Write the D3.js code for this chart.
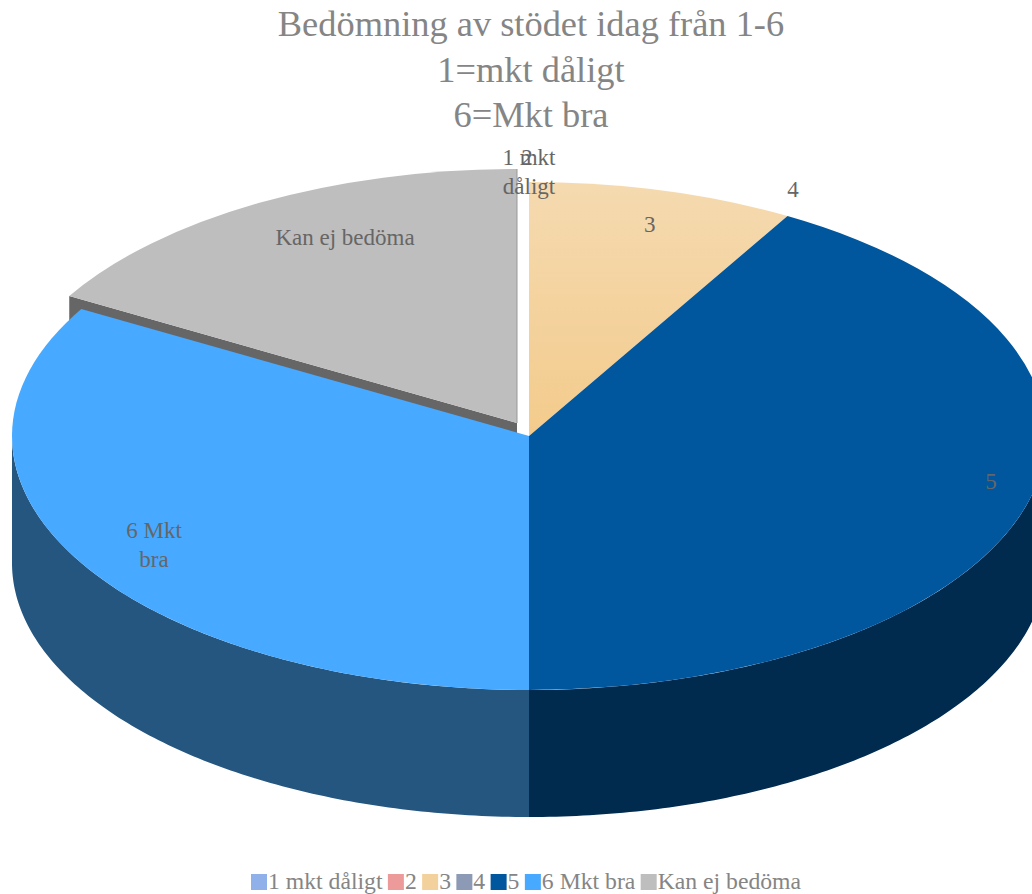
<!DOCTYPE html>
<html>
<head>
<meta charset="utf-8">
<script src="https://cdn.jsdelivr.net/npm/d3@7"></script>
<style>
  body { margin: 0; background: #fff; }
  text { font-family: "Liberation Serif", serif; }
</style>
</head>
<body>
<div id="chart-container"></div>
<script>
'use strict';

const titleLines = ['Bedömning av stödet idag från 1-6', '1=mkt dåligt', '6=Mkt bra'];
const categories = ['1 mkt dåligt', '2', '3', '4', '5', '6 Mkt bra', 'Kan ej bedöma'];
const values = [0, 0, 1, 0, 5, 4, 2];
const topColours = ['#8fb0e8', '#ec9a9a', 'url(#grad3)', '#8c9ab5', '#00579e', '#47a9ff', '#bebebe'];
const wallColours = ['#5a6f94', '#945f5f', '#98805a', '#586172', '#002a4e', '#24567f', '#666666'];
const legendColours = ['#8fb0e8', '#ec9a9a', '#f3d19c', '#8c9ab5', '#00579e', '#47a9ff', '#bebebe'];

var width = 1032;
var height = 894;
var cx = 529, cy = 436;
var rx = 517, ry = 254;
var depth = 127;
var explode = { dx: -12, dy: -13 };
var explodedIndex = 6;

var svg = d3.select('#chart-container')
  .append('svg')
  .attr('width', width)
  .attr('height', height)
  .style('display', 'block');

var grad = svg.append('defs').append('linearGradient')
  .attr('id', 'grad3').attr('x1', 0).attr('y1', 0).attr('x2', 0).attr('y2', 1);
grad.append('stop').attr('offset', '0%').attr('stop-color', '#f5dab0');
grad.append('stop').attr('offset', '100%').attr('stop-color', '#f3cb8c');

// title
svg.append('g').selectAll('text')
  .data(titleLines)
  .enter()
  .append('text')
  .attr('x', 531)
  .attr('y', (d, i) => 36 + i * 45.5)
  .attr('text-anchor', 'middle')
  .attr('font-size', 36.4)
  .attr('fill', '#858585')
  .text(d => d);

var pie = d3.pie().value(d => d).sort(null);
var slices = pie(values);

var arc = d3.arc().innerRadius(0).outerRadius(rx);

// point on the squashed ellipse for a pie angle
const px = a => rx * Math.sin(a);
const py = a => -ry * Math.cos(a);

const wallArea = d3.area()
  .x(a => px(a))
  .y0(a => py(a))
  .y1(a => py(a) + depth);

function sliceGroup(d, i) {
  const off = i === explodedIndex ? explode : { dx: 0, dy: 0 };
  return 'translate(' + (cx + off.dx) + ',' + (cy + off.dy) + ')';
}

const pieGroup = svg.append('g');

// the exploded slice goes first, the main pie sits in front of it
const drawOrder = d3.range(slices.length)
  .filter(i => values[i] > 0)
  .sort((a, b) => (b === explodedIndex) - (a === explodedIndex));

drawOrder.forEach(i => {
  const d = slices[i];
  const g = pieGroup.append('g').attr('transform', sliceGroup(d, i));

  // cut face on the leading edge of the exploded slice
  if (i === explodedIndex) {
    const a = d.startAngle;
    g.append('path')
      .attr('d', d3.line()([[0, 0], [px(a), py(a)], [px(a), py(a) + depth], [0, depth]]))
      .attr('fill', wallColours[i]);
  }

  // outer wall, only the front half of the ellipse shows
  const from = Math.max(d.startAngle, Math.PI / 2);
  const to = Math.min(d.endAngle, Math.PI * 3 / 2);
  if (to > from) {
    g.append('path')
      .attr('d', wallArea(d3.range(0, 121).map(t => from + (to - from) * t / 120)))
      .attr('fill', wallColours[i]);
  }

  // top face
  g.append('path')
    .attr('d', arc(d))
    .attr('transform', 'scale(1,' + (ry / rx) + ')')
    .attr('fill', topColours[i]);

  if (i === explodedIndex) {
    g.append('line')
      .attr('x1', 0).attr('y1', 0)
      .attr('x2', 0).attr('y2', -ry)
      .attr('stroke', '#999')
      .attr('stroke-width', 1);
  }
});

// data labels: placed on the slice middle, then nudged like the original
const labelLines = [['1 mkt', 'dåligt'], ['2'], ['3'], ['4'], ['5'], ['6 Mkt', 'bra'], ['Kan ej bedöma']];
const labelRadius = 0.88;
const labelNudge = [[0, -47.5], [-2, -47.5], [3, 12], [36.5, -45], [22.5, -5], [19, -10], [55.5, 15.6]];

const labels = svg.append('g');
slices.forEach((d, i) => {
  const mid = (d.startAngle + d.endAngle) / 2;
  const off = i === explodedIndex ? explode : { dx: 0, dy: 0 };
  const x = cx + off.dx + labelRadius * px(mid) + labelNudge[i][0];
  const y = cy + off.dy + labelRadius * py(mid) + labelNudge[i][1];
  labelLines[i].forEach((line, k) => {
    labels.append('text')
      .attr('x', x)
      .attr('y', y + k * 29)
      .attr('text-anchor', 'middle')
      .attr('font-size', 23)
      .attr('fill', '#666')
      .text(line);
  });
});

// legend, laid out by measuring each entry
const legend = svg.append('g');
const swatch = 16;
let legendX = 251;
categories.forEach((c, i) => {
  legend.append('rect')
    .attr('x', legendX).attr('y', 874)
    .attr('width', swatch).attr('height', 16)
    .attr('fill', legendColours[i]);
  const t = legend.append('text')
    .attr('x', legendX + swatch + 1)
    .attr('y', 889)
    .attr('font-size', 23.7)
    .attr('fill', '#858585')
    .text(c);
  legendX += swatch + 1 + t.node().getComputedTextLength() + 5.4;
});
</script>
</body>
</html>
